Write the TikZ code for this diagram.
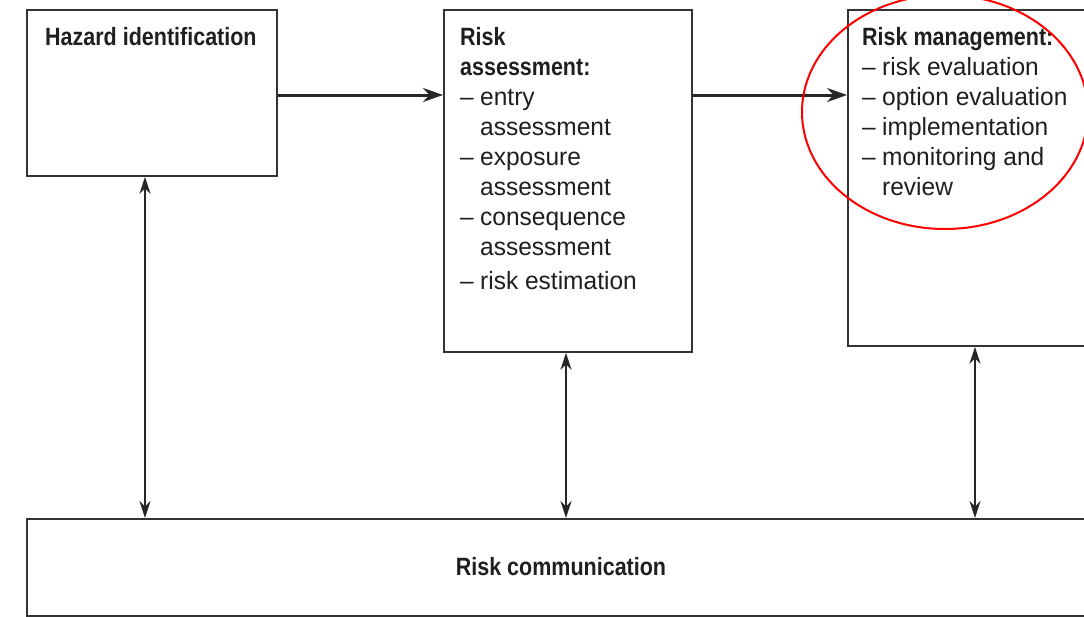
\documentclass[tikz,border=0pt]{standalone}
\usepackage{fontspec}
\setmainfont{Liberation Sans}[FakeStretch=0.98,BoldFeatures={FakeStretch=0.86}]
\usetikzlibrary{arrows.meta,calc}
\newcommand\dsh{\makebox[20pt][l]{--}}
\newcommand\ind{\hspace*{20pt}}
\begin{document}
\begin{tikzpicture}[x=1pt,y=1pt,
  box/.style={draw=black!80, line width=1.8pt, anchor=north west, inner sep=0pt},
  txt/.style={anchor=north west, align=left, inner sep=0pt, text=black!88,
    font=\fontsize{25}{30}\selectfont},
  flow/.style={line width=3pt, draw=black!85, -{Stealth[length=20pt,width=14pt]}},
  link/.style={line width=1.6pt, draw=black!85, {Stealth[length=17pt,width=11pt]}-{Stealth[length=17pt,width=11pt]}}]
\useasboundingbox (0,0) rectangle (1084,-616);
% the four process boxes (the last two run past the right edge)
\node[box, minimum width=250, minimum height=166] (haz) at (26,-9) {};
\node[box, minimum width=248, minimum height=342] (ra) at (443,-9) {};
\node[box, minimum width=300, minimum height=336] (rm) at (847,-9) {};
\node[box, minimum width=1100, minimum height=97] (rc) at (26,-518) {};
% box contents
\node[txt] (hazt) at (45,-27) {\textbf{Hazard identification}};
\node[txt] (rat) at (460,-27) {\textbf{Risk}\\\textbf{assessment:}\\
  \dsh entry\\\ind assessment\\\dsh exposure\\\ind assessment\\
  \dsh consequence\\\ind assessment\\[4pt]\dsh risk estimation};
\node[txt] (rmt) at (862,-27) {\textbf{Risk management:}\\\dsh risk evaluation\\
  \dsh option evaluation\\\dsh implementation\\\dsh monitoring and\\\ind review};
\node[anchor=center, inner sep=0pt, text=black!88, font=\fontsize{25}{30}\selectfont\bfseries] (rct) at (561,-567) {Risk communication};
% connectors
\draw[flow] (haz.east |- 0,-95) -- (ra.west |- 0,-95);
\draw[flow] (ra.east |- 0,-95) -- (rm.west |- 0,-95);
\draw[link] (haz.south -| 145,0) -- (rc.north -| 145,0);
\draw[link] (ra.south -| 566,0) -- (rc.north -| 566,0);
\draw[link] (rm.south -| 975,0) -- (rc.north -| 975,0);
% highlight ring
\draw[red, line width=2pt] (945,-112) ellipse [x radius=143, y radius=117];
\end{tikzpicture}
\end{document}
